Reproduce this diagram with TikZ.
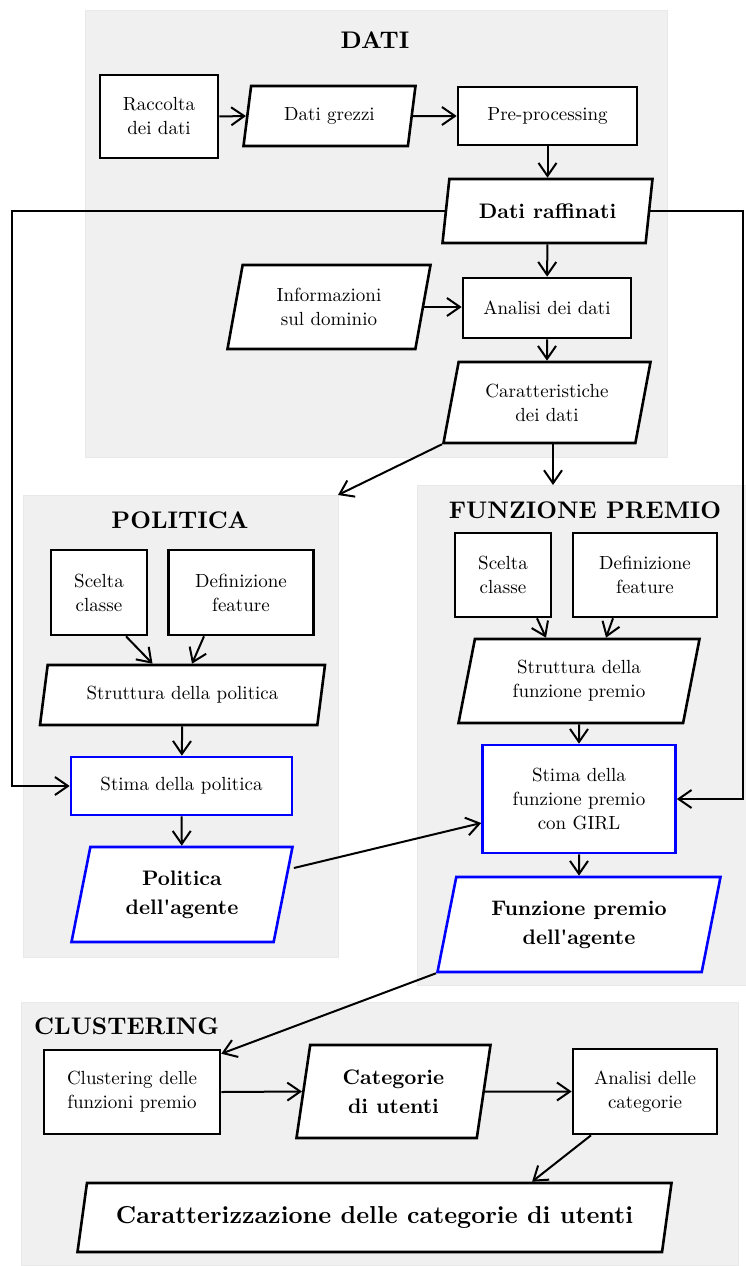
\documentclass[tikz,border=0pt]{standalone}
\usepackage{fontspec}
\setmainfont{lmroman10-regular.otf}[BoldFont=lmroman10-bold.otf, Ligatures=TeXOff]
\usepackage{tikz}
\usetikzlibrary{arrows.meta,positioning,shapes.geometric}

\begin{document}
\begin{tikzpicture}[x=1pt, y=-1pt, every node/.style={font=\fontsize{19}{24}\selectfont},
  panel/.style={fill=black!6, draw=black!9, line width=1pt, outer sep=0pt},
  paneltitle/.style={font=\fontsize{24}{28}\selectfont\bfseries, inner sep=0pt},
  box/.style={draw, line width=2.6pt, fill=white, align=center, inner sep=2pt},
  io/.style={box, trapezium, trapezium left angle=70, trapezium right angle=110, trapezium stretches body},
  result/.style={draw=blue},
  big/.style={font=\fontsize{21}{29}\selectfont\bfseries},
  arr/.style={-{Straight Barb[length=13pt,width=18pt]}, line width=2pt}]
\useasboundingbox (0,0) rectangle (745,1266);

% panels
\node[panel, minimum width=582pt, minimum height=447pt] (datipanel) at (376,233.5) {};
\node[panel, minimum width=315pt, minimum height=462pt] (polpanel) at (180.5,726) {};
\node[panel, minimum width=333pt, minimum height=500pt] (fppanel) at (583.5,735) {};
\node[panel, minimum width=717pt, minimum height=263pt] (clpanel) at (379.5,1133.5) {};
\node[paneltitle] (tdati) at (375,40) {DATI};
\node[paneltitle] (tpol) at (180,520) {POLITICA};
\node[paneltitle] (tfp) at (585,510) {FUNZIONE PREMIO};
\node[paneltitle, anchor=west] (tcl) at (34,1026) {CLUSTERING};

% dati
\node[box, minimum width=118pt, minimum height=83pt] (raccolta) at (159,116.5) {Raccolta\\dei dati};
\node[io, minimum width=172pt, minimum height=60pt] (grezzi) at (329.5,116) {Dati grezzi};
\node[box, minimum width=179pt, minimum height=58pt] (preproc) at (547.5,116) {Pre-processing};
\node[io, big, minimum width=210pt, minimum height=64pt] (raffinati) at (547.5,211) {Dati raffinati};
\node[io, minimum width=203pt, minimum height=84pt] (dominio) at (329,307) {Informazioni\\sul dominio};
\node[box, minimum width=168pt, minimum height=60pt] (analisi) at (547,308) {Analisi dei dati};
\node[io, minimum width=207pt, minimum height=81pt] (caratt) at (547,402.5) {Caratteristiche\\dei dati};

% politica
\node[box, minimum width=96pt, minimum height=85pt] (sceltapol) at (99,592.5) {Scelta\\classe};
\node[box, minimum width=145pt, minimum height=85pt] (featpol) at (241,592.5) {Definizione\\feature};
\node[io, minimum width=285pt, minimum height=60pt] (strutpol) at (182.5,695) {Struttura della politica};
\node[box, result, minimum width=221pt, minimum height=58pt] (stimapol) at (181.5,786) {Stima della politica};
\node[io, result, big, minimum width=221pt, minimum height=95pt] (politica) at (182,894.5) {Politica\\dell'agente};

% funzione premio
\node[box, minimum width=96pt, minimum height=84pt] (sceltafp) at (503,575) {Scelta\\classe};
\node[box, minimum width=144pt, minimum height=84pt] (featfp) at (645,575) {Definizione\\feature};
\node[io, minimum width=241pt, minimum height=84pt] (strutfp) at (579,681) {Struttura della\\funzione premio};
\node[box, result, minimum width=193pt, minimum height=108pt] (stimafp) at (579,799) {Stima della\\funzione premio\\con GIRL};
\node[io, result, big, minimum width=283pt, minimum height=95pt] (premio) at (579,924.5) {Funzione premio\\dell'agente};

% clustering
\node[box, minimum width=176pt, minimum height=84pt] (clust) at (132,1092) {Clustering delle\\funzioni premio};
\node[io, big, trapezium left angle=74, trapezium right angle=106, minimum width=194pt, minimum height=93pt] (categorie) at (393.5,1091.5) {Categorie\\di utenti};
\node[box, minimum width=144pt, minimum height=85pt] (analcat) at (645,1091.5) {Analisi delle\\categorie};
\node[io, big, font=\fontsize{24.5}{29}\selectfont\bfseries, minimum width=594pt, minimum height=69pt] (caratterizz) at (374.5,1217.5) {Caratterizzazione delle categorie di utenti};

\coordinate (lbus) at (12,500);
\coordinate (rbus) at (743,500);

\draw[arr] (raccolta.east) -- (grezzi.west);
\draw[arr] (grezzi.east) -- (preproc.west);
\draw[arr] (preproc) -- (raffinati);
\draw[arr] (raffinati) -- (analisi);
\draw[arr] (dominio.east) -- (dominio.east -| analisi.west);
\draw[arr] (analisi) -- (caratt);
\draw[arr] (caratt.bottom left corner) -- (polpanel.north east);
\draw[arr] ([xshift=6pt]caratt.south) -- ([xshift=6pt]caratt.south |- fppanel.north);
\draw[arr] (raffinati.west) -| (lbus) |- (stimapol.west);
\draw[arr] (raffinati.east) -| (rbus) |- (stimafp.east);
\draw[arr] ([xshift=27pt]sceltapol.south) -- ([xshift=-30pt]strutpol.north);
\draw[arr] ([xshift=-37pt]featpol.south) -- ([xshift=9.5pt]strutpol.north);
\draw[arr] (strutpol) -- (stimapol);
\draw[arr] (stimapol) -- (politica);
\draw[arr] ([xshift=34pt]sceltafp.south) -- ([xshift=-33pt]strutfp.north);
\draw[arr] ([xshift=-32pt]featfp.south) -- ([xshift=27pt]strutfp.north);
\draw[arr] (strutfp) -- (stimafp);
\draw[arr] (stimafp) -- (premio);
\draw[arr] ([shift={(9.5pt,26.5pt)}]politica.east) -- ([yshift=-24pt]stimafp.west);
\draw[arr] (premio.bottom left corner) -- ([yshift=-5pt]clust.north east);
\draw[arr] (clust.east) -- (categorie.west);
\draw[arr] (categorie.east) -- (analcat.west);
\draw[arr] ([xshift=-54pt]analcat.south) -- ([xshift=157.5pt]caratterizz.north);
\end{tikzpicture}
\end{document}
